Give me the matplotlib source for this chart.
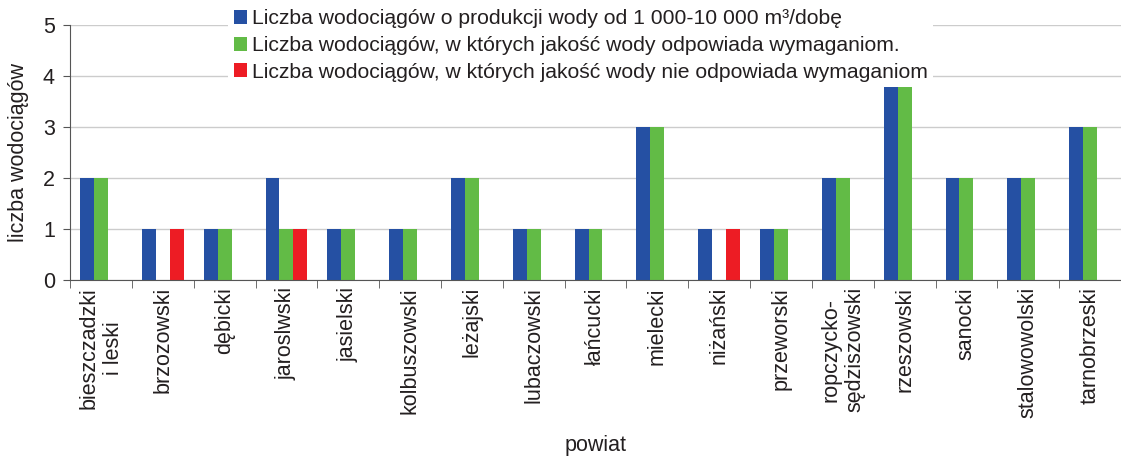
import numpy as np
import matplotlib
matplotlib.use('Agg')
from matplotlib import pyplot as plt
from matplotlib.ticker import FixedLocator, NullFormatter

plt.rcParams['font.family'] = ['Liberation Sans', 'DejaVu Sans']

powiaty = ['bieszczadzki\ni leski', 'brzozowski', 'dębicki', 'jaroslwski', 'jasielski',
           'kolbuszowski', 'leżajski', 'lubaczowski', 'łańcucki', 'mielecki', 'niżański',
           'przeworski', 'ropczycko-\nsędziszowski', 'rzeszowski', 'sanocki',
           'stalowowolski', 'tarnobrzeski']
wszystkie = [2, 1, 1, 2, 1, 1, 2, 1, 1, 3, 1, 1, 2, 4, 2, 2, 3]
zgodne = [2, 0, 1, 1, 1, 1, 2, 1, 1, 3, 0, 1, 2, 4, 2, 2, 3]
niezgodne = [0, 1, 0, 1, 0, 0, 0, 0, 0, 0, 1, 0, 0, 0, 0, 0, 0]

labels = ['Liczba wodociągów o produkcji wody od 1 000-10 000 m³/dobę',
          'Liczba wodociągów, w których jakość wody odpowiada wymaganiom.',
          'Liczba wodociągów, w których jakość wody nie odpowiada wymaganiom']
colors = ['#2550a3', '#62bb46', '#ed1c24']

fig = plt.figure(figsize=(11.21, 4.57), dpi=100)
ax = fig.add_axes([0.0625, 0.387, 0.9375, 0.558])

x = np.arange(len(powiaty))
w = 0.225
for i, (vals, c, lab) in enumerate(zip([wszystkie, zgodne, niezgodne], colors, labels)):
    ax.bar(x + (i - 1) * w, vals, w, color=c, label=lab, zorder=2)

ax.set_xlim(-0.5, len(powiaty) - 0.5)
ax.set_ylim(0, 5)
ax.set_yticks(range(6))
ax.yaxis.grid(True, color='#cccccc', linewidth=1, zorder=0)
ax.set_axisbelow(True)

ax.set_xticks(x)
ax.set_xticklabels(powiaty, rotation=90, fontsize=15.5, color='#231f20',
                   multialignment='center', va='top')
ax.tick_params(axis='x', which='major', length=0, pad=5)
ax.xaxis.set_minor_locator(FixedLocator(np.arange(-0.5, len(powiaty), 1)))
ax.xaxis.set_minor_formatter(NullFormatter())
ax.tick_params(axis='x', which='minor', length=6, color='#555555', direction='out')
ax.tick_params(axis='y', length=5, color='#555555', labelsize=15.5, labelcolor='#231f20', pad=6)

for s in ['top', 'right']:
    ax.spines[s].set_visible(False)
for s in ['left', 'bottom']:
    ax.spines[s].set_color('#555555')

ax.set_ylabel('liczba wodociągów', fontsize=15.5, color='#231f20', labelpad=10)
ax.set_xlabel('powiat', fontsize=15.5, color='#231f20', labelpad=12)

leg = ax.legend(loc='upper left', bbox_to_anchor=(0.2, 1.0), bbox_transform=fig.transFigure,
                frameon=True, fancybox=False, edgecolor='none', framealpha=1,
                fontsize=15.2, handlelength=0.65, handleheight=0.65, handletextpad=0.2,
                labelspacing=0.36, borderpad=0.25, borderaxespad=0.2)
leg.set_zorder(5)
for t in leg.get_texts():
    t.set_color('#231f20')

fig.savefig('out.png', dpi=100)
